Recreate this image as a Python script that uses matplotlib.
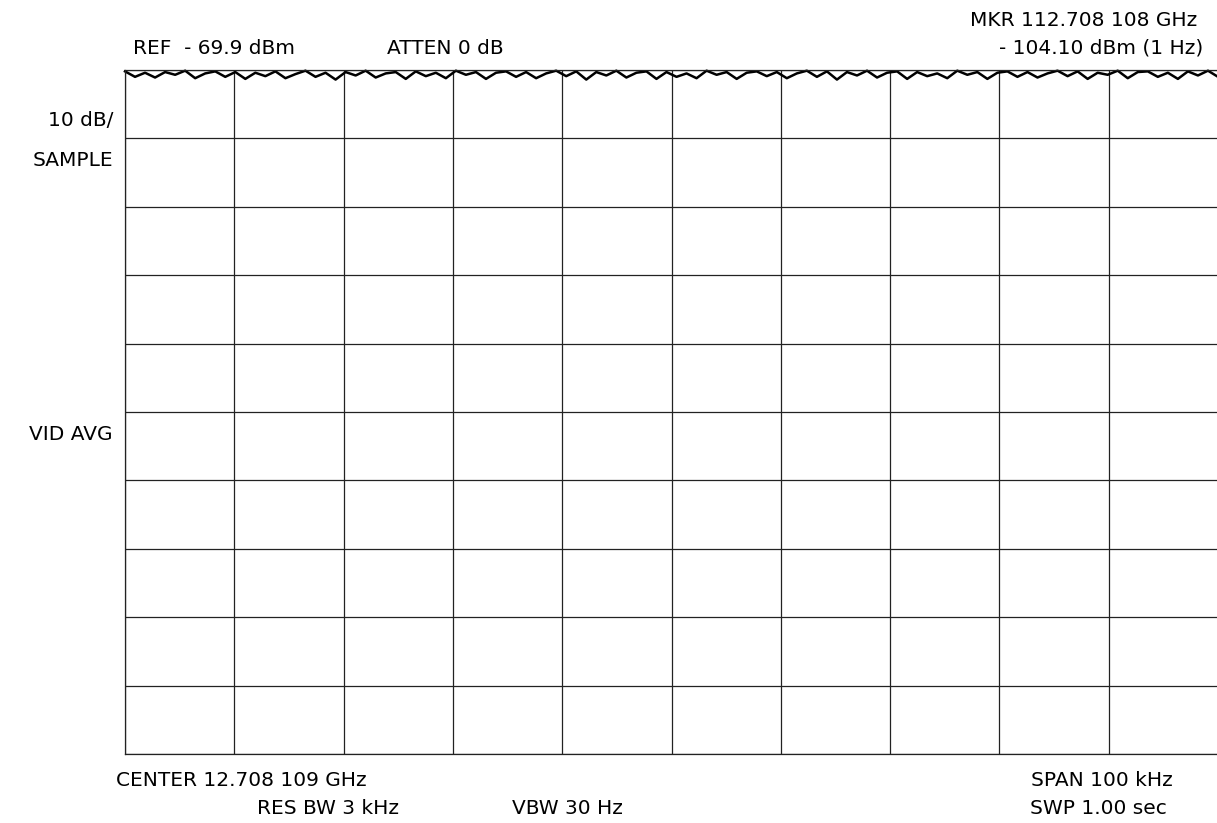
# Spectrum analyzer screen: noise floor trace near reference level

import numpy as np
import matplotlib.pyplot as plt

plt.rcParams['font.family'] = ['DejaVu Sans']

ref_level = -69.9      # dBm, top of screen
db_per_div = 10
span_khz = 100

# trace, dBm (sweep left to right)
trace = [-70.1, -70.9, -70.3, -71.0, -70.2, -70.6, -70.0, -71.1, -70.4, -70.1,
         -70.9, -70.2, -71.2, -70.3, -70.8, -70.1, -71.1, -70.5, -70.0, -70.9,
         -70.3, -71.3, -70.2, -70.7, -70.0, -71.0, -70.4, -70.2, -71.2, -70.1,
         -70.8, -70.3, -71.1, -70.0, -70.6, -70.2, -71.2, -70.3, -70.1, -70.9,
         -70.2, -71.1, -70.4, -70.0, -70.8, -70.1, -71.3, -70.2, -70.7, -70.0,
         -71.0, -70.3, -70.1, -71.2, -70.2, -70.9, -70.4, -71.1, -70.0, -70.6,
         -70.2, -71.2, -70.3, -70.1, -70.8, -70.2, -71.1, -70.4, -70.0, -70.9,
         -70.1, -71.3, -70.2, -70.7, -70.0, -71.0, -70.3, -70.1, -71.2, -70.2,
         -70.8, -70.4, -71.1, -70.0, -70.6, -70.2, -71.2, -70.3, -70.1, -70.9,
         -70.2, -71.0, -70.4, -70.0, -70.8, -70.1, -71.2, -70.3, -70.6, -70.0,
         -71.1, -70.2, -70.1, -70.9, -70.3, -71.2, -70.1, -70.7, -70.0, -70.9]

labels_left = ['10 dB/', 'SAMPLE', 'VID AVG']

W, H = 1217, 823
fig = plt.figure(figsize=(W / 100, H / 100), dpi=100)

# plot area in pixels: x 125..1218, y 70..754
ax = fig.add_axes([125 / W, (H - 754) / H, 1093 / W, 684 / H])

freq = np.linspace(-span_khz / 2, span_khz / 2, len(trace))
ax.plot(freq, trace, color='black', lw=1.8, clip_on=False)

ax.set_xlim(-span_khz / 2, span_khz / 2)
ax.set_ylim(ref_level - 10 * db_per_div, ref_level)
ax.set_xticks(np.linspace(-span_khz / 2, span_khz / 2, 11))
ax.set_yticks(np.linspace(ref_level - 10 * db_per_div, ref_level, 11))
ax.grid(True, color='#222222', lw=0.9)
ax.tick_params(length=0, labelbottom=False, labelleft=False)
for s in ax.spines.values():
    s.set_color('#222222')
    s.set_linewidth(0.9)
ax.spines['right'].set_visible(False)


def txt(x, y, s, ha='left'):
    fig.text(x / W, 1 - y / H, s, ha=ha, va='center', fontsize=14.5)


txt(133, 48, 'REF  - 69.9 dBm')
txt(387, 48, 'ATTEN 0 dB')
txt(1197, 20, 'MKR 112.708 108 GHz', ha='right')
txt(1203, 48, '- 104.10 dBm (1 Hz)', ha='right')
txt(113, 121, labels_left[0], ha='right')
txt(113, 161, labels_left[1], ha='right')
txt(113, 434, labels_left[2], ha='right')
txt(116, 781, 'CENTER 12.708 109 GHz')
txt(257, 808, 'RES BW 3 kHz')
txt(512, 808, 'VBW 30 Hz')
txt(1173, 781, 'SPAN 100 kHz', ha='right')
txt(1167, 808, 'SWP 1.00 sec', ha='right')

fig.savefig('out.png', dpi=100)
